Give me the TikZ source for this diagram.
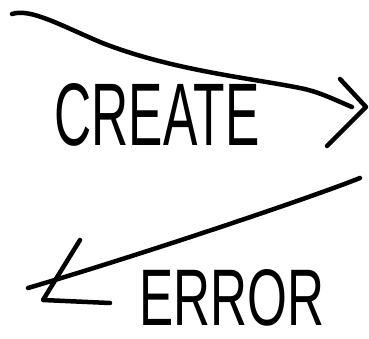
\documentclass[tikz,border=0pt]{standalone}
\usepackage{graphicx}
\usepackage{fontspec}
\setmainfont{Liberation Sans}
\begin{document}
\begin{tikzpicture}[x=1pt,y=-1pt,
  ink/.style={draw=black,line width=4.5pt,line cap=round,line join=round},
  word/.style={inner sep=0pt,text=black}]
\useasboundingbox (0,0) rectangle (369,338);
% top arrow
\coordinate (a1) at (12,14);
\coordinate (a2) at (352,107);
\coordinate (ah1) at (340,79);
\coordinate (atip) at (366,107);
\coordinate (ah2) at (327,146);
\draw[ink] (a1) .. controls (30,8) and (60,25) .. (100,42)
  .. controls (170,70) and (250,78) .. (300,88)
  .. controls (320,92) and (335,100) .. (a2);
\draw[ink] (ah1) -- (atip) -- (ah2);
\node[word] (create) at (157,115) {\resizebox{205pt}{62pt}{CREATE}};
% bottom arrow
\coordinate (b1) at (360,178);
\coordinate (b2) at (28,288);
\coordinate (bh1) at (80,240);
\coordinate (btip) at (43,300);
\coordinate (bh2) at (110,303);
\draw[ink] (b1) .. controls (310,198) and (140,255) .. (b2);
\draw[ink] (bh1) -- (btip) -- (bh2);
\node[word] (error) at (232,298) {\resizebox{185pt}{56pt}{ERROR}};
\end{tikzpicture}
\end{document}
